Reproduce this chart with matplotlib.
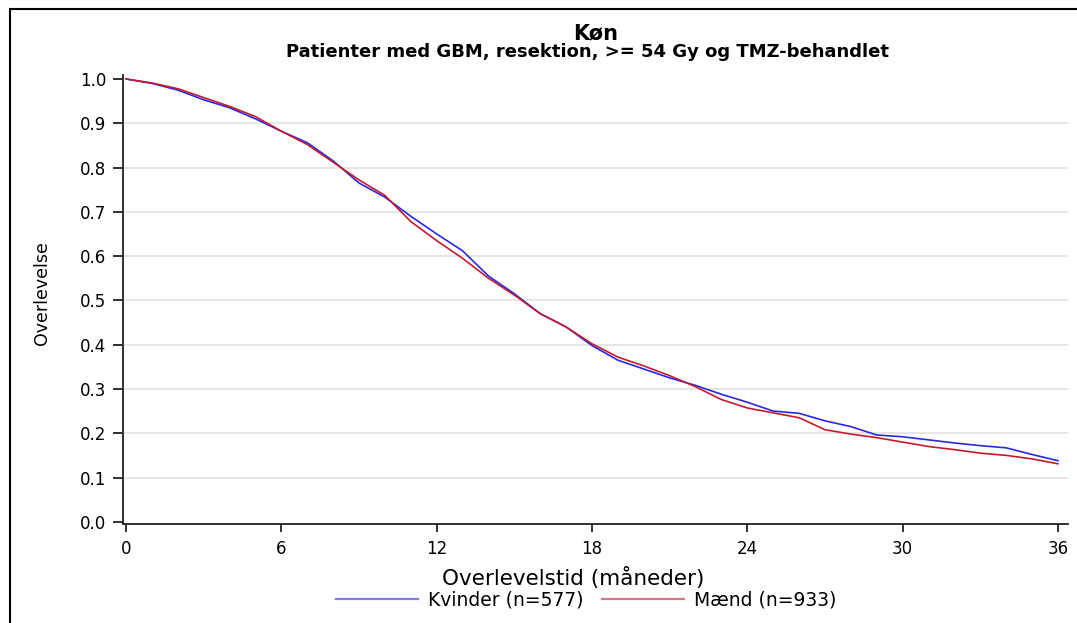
import matplotlib.pyplot as plt
from matplotlib.lines import Line2D

# survival, month by month
months = [0, 1, 2, 3, 4, 5, 6, 7, 8, 9, 10, 11, 12, 13, 14, 15, 16, 17, 18,
          19, 20, 21, 22, 23, 24, 25, 26, 27, 28, 29, 30, 31, 32, 33, 34, 35, 36]
kvinder = [1.000, 0.990, 0.975, 0.953, 0.935, 0.910, 0.882, 0.856, 0.815,
           0.765, 0.733, 0.690, 0.650, 0.612, 0.555, 0.515, 0.470, 0.440,
           0.398, 0.365, 0.345, 0.325, 0.308, 0.288, 0.270, 0.250, 0.245,
           0.228, 0.215, 0.196, 0.192, 0.185, 0.178, 0.172, 0.167, 0.152, 0.138]
maend = [1.000, 0.991, 0.978, 0.958, 0.938, 0.915, 0.882, 0.852, 0.812,
         0.772, 0.737, 0.678, 0.635, 0.595, 0.550, 0.512, 0.470, 0.440,
         0.402, 0.372, 0.352, 0.330, 0.305, 0.276, 0.257, 0.246, 0.235,
         0.208, 0.198, 0.190, 0.180, 0.170, 0.163, 0.155, 0.150, 0.142, 0.131]

labels = ['Kvinder (n=577)', 'Mænd (n=933)']
colors = ['#2828e6', '#c41a30']
xticks = [0, 6, 12, 18, 24, 30, 36]
yticks = [0.0, 0.1, 0.2, 0.3, 0.4, 0.5, 0.6, 0.7, 0.8, 0.9, 1.0]

plt.rcParams['font.family'] = ['DejaVu Sans']

W, H = 1077, 623
fig = plt.figure(figsize=(W / 100, H / 100), dpi=100)
ax = fig.add_axes([123 / W, 1 - 524 / H, (1068 - 123) / W, (524 - 75) / H])

ax.plot(months, kvinder, color=colors[0], lw=1.2)
ax.plot(months, maend, color=colors[1], lw=1.2)

ax.set_xlim(-0.12, 36.39)
ax.set_ylim(-0.005, 1.009)
ax.set_xticks(xticks)
ax.set_yticks(yticks)
ax.set_yticklabels(['%.1f' % v for v in yticks])
ax.tick_params(labelsize=12, width=1.3, color='#222222')
ax.tick_params(axis='y', length=7, pad=5)
ax.tick_params(axis='x', length=5.5, pad=6)

ax.grid(axis='y', color='#e2e2e2', lw=1.2)
ax.set_axisbelow(True)
ax.get_ygridlines()[0].set_visible(False)
ax.get_ygridlines()[-1].set_visible(False)

for s in ['top', 'right']:
    ax.spines[s].set_visible(False)
for s in ['left', 'bottom']:
    ax.spines[s].set_linewidth(1.3)
    ax.spines[s].set_color('#222222')

fig.text(596 / W, 1 - 33 / H, 'Køn', ha='center', va='center',
         fontsize=15, fontweight='bold')
fig.text(587 / W, 1 - 52 / H, 'Patienter med GBM, resektion, >= 54 Gy og TMZ-behandlet',
         ha='center', va='center', fontsize=13, fontweight='bold')

fig.text(42 / W, 1 - 293 / H, 'Overlevelse', rotation=90, ha='center',
         va='center', fontsize=12.5)
fig.text(573 / W, 1 - 578 / H, 'Overlevelstid (måneder)', ha='center',
         va='center', fontsize=15.5)

handles = [Line2D([], [], color=c, lw=1.6, alpha=0.6) for c in colors]
fig.legend(handles, labels, loc='center', bbox_to_anchor=(586 / W, 1 - 600 / H),
           ncol=2, frameon=False, fontsize=13.5, handlelength=4.4,
           columnspacing=1.0, handletextpad=0.5)

# frame of the original image
fig.add_artist(Line2D([10 / W, 10 / W], [0, 1 - 9 / H], color='black', lw=1.5))
fig.add_artist(Line2D([10 / W, 1], [1 - 9 / H, 1 - 9 / H], color='black', lw=1.5))

fig.savefig('out.png', dpi=100)
